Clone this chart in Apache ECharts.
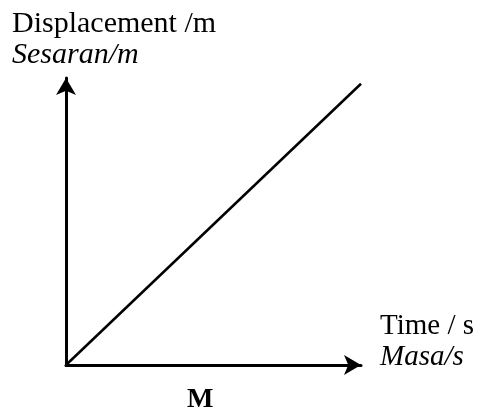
<!DOCTYPE html>
<html>
<head>
<meta charset="utf-8">
<script src="https://cdn.jsdelivr.net/npm/echarts@6/dist/echarts.min.js"></script>
<style>
  html, body { margin: 0; padding: 0; background: #fff; }
  #chart { width: 480px; height: 414px; }
</style>
</head>
<body>
<div id="chart"></div>
<script>
// data (arbitrary units, axes 0..10)
var timeValues = [0, 10];
var displacementValues = [0, 9.8];
var yTitle = ['Displacement /m', 'Sesaran/m'];
var xTitle = ['Time / s', 'Masa/s'];
var graphLabel = 'M';

var chart = echarts.init(document.getElementById('chart'));

var points = timeValues.map(function (t, i) {
    return [t, displacementValues[i]];
});

var serif = '"Liberation Serif", "DejaVu Serif", serif';

function axis() {
    return {
        type: 'value',
        min: 0,
        max: 10,
        axisLabel: { show: false },
        axisTick: { show: false },
        splitLine: { show: false },
        axisLine: {
            show: true,
            symbol: ['none', 'arrow'],
            symbolSize: [15, 17],
            lineStyle: { color: '#000', width: 3 }
        }
    };
}

// x, y = top-left of the text box
function label(text, x, y, font) {
    return {
        type: 'text',
        style: { text: text, x: x, y: y, font: font, fill: '#000' }
    };
}

var option = {
    backgroundColor: '#fff',
    animation: false,
    grid: { left: 66, right: 119, top: 78, bottom: 49 },
    xAxis: axis(),
    yAxis: axis(),
    series: [{
        type: 'line',
        data: points,
        symbol: 'none',
        lineStyle: { color: '#000', width: 2.5 }
    }],
    graphic: [
        label(yTitle[0], 12, 9, '30px ' + serif),
        label(yTitle[1], 12, 40, 'italic 30px ' + serif),
        label(xTitle[0], 380, 312, '29px ' + serif),
        label(xTitle[1], 380, 343, 'italic 29px ' + serif),
        label(graphLabel, 187, 386, 'bold 28px ' + serif)
    ]
};

chart.setOption(option);
</script>
</body>
</html>
